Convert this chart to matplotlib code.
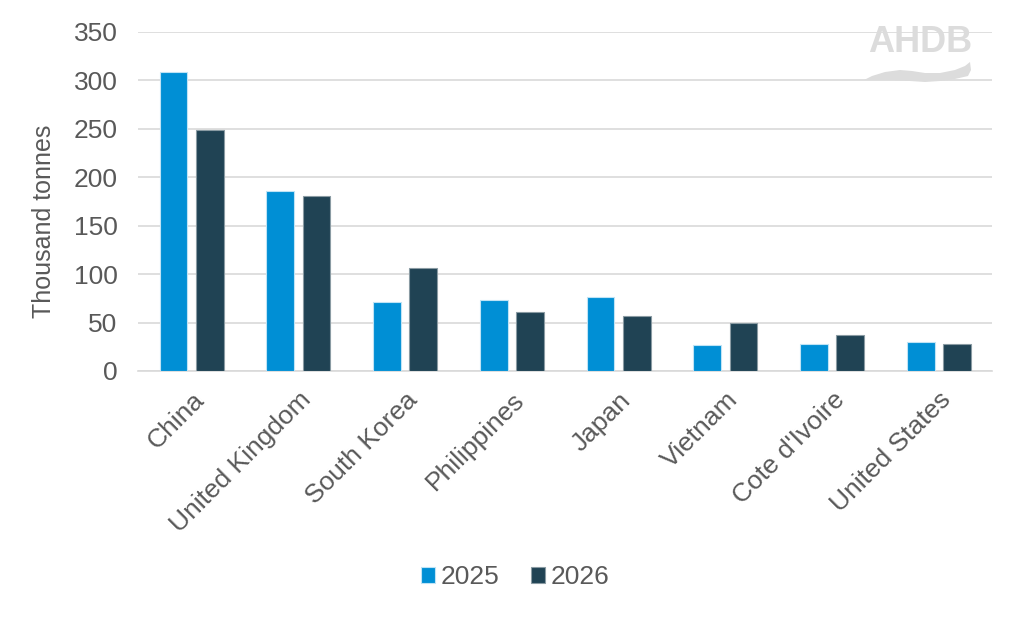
import numpy as np
import matplotlib
matplotlib.use("Agg")
import matplotlib.pyplot as plt
from matplotlib.patches import Polygon

countries = ["China", "United Kingdom", "South Korea", "Philippines",
             "Japan", "Vietnam", "Cote d'Ivoire", "United States"]
y2025 = [308, 186, 71, 73, 76, 27, 28, 30]
y2026 = [249, 181, 106, 61, 57, 50, 37, 28]
years = ["2025", "2026"]

plt.rcParams['font.family'] = ['Liberation Sans', 'DejaVu Sans']
grey = "#595959"

fig = plt.figure(figsize=(10.24, 6.18), dpi=100)
ax = fig.add_axes([0.135, 0.3997, 0.834, 0.549])

x = np.arange(len(countries))
w = 0.26
b1 = ax.bar(x - 0.17, y2025, w, color="#008FD5", edgecolor="#BFE3F5", linewidth=0.8, label=years[0], zorder=3)
b2 = ax.bar(x + 0.17, y2026, w, color="#204354", edgecolor="#8A9BA3", linewidth=0.8, label=years[1], zorder=3)

ax.set_xlim(-0.5, len(countries) - 0.5)
ax.set_ylim(0, 350)
ax.set_yticks(range(0, 351, 50))
ax.yaxis.grid(True, color="#D9D9D9", linewidth=1.2, zorder=0)
ax.set_axisbelow(True)
for s in ["top", "right", "left"]:
    ax.spines[s].set_visible(False)
ax.spines["bottom"].set_color("#D9D9D9")
ax.spines["bottom"].set_linewidth(1.2)
ax.tick_params(axis="both", length=0, labelsize=19, colors=grey)
ax.tick_params(axis="y", pad=15)
ax.set_xticks(x)
ax.set_xticklabels(countries, rotation=45, ha="right", rotation_mode="anchor")
ax.tick_params(axis="x", pad=12)
ax.set_ylabel("Thousand tonnes", fontsize=18, color=grey)
ax.yaxis.set_label_coords(-0.096, 0.44)

leg = fig.legend(handles=[b1, b2], labels=years, loc="center", bbox_to_anchor=(0.503, 0.066),
                 ncol=2, frameon=False, fontsize=19, handlelength=0.55, handleheight=0.55,
                 handletextpad=0.2, columnspacing=1.2)
for t in leg.get_texts():
    t.set_color(grey)

# logo
fig.text(0.899, 0.932, "AHDB", fontsize=26, color="#DCDCDC", ha="center", va="center", fontweight="bold")
pts = [(864, 80), (872, 76), (885, 72), (900, 70), (912, 71), (925, 73), (940, 73),
       (955, 70), (965, 66), (970, 62), (971, 70), (968, 76), (955, 79), (940, 81),
       (925, 82), (910, 81), (895, 80), (880, 80)]
swoosh = Polygon([(px / 1024, 1 - py / 618) for px, py in pts], closed=True,
                 transform=fig.transFigure, facecolor="#DCDCDC", edgecolor="none")
fig.patches.append(swoosh)

fig.savefig("out.png", dpi=100)
